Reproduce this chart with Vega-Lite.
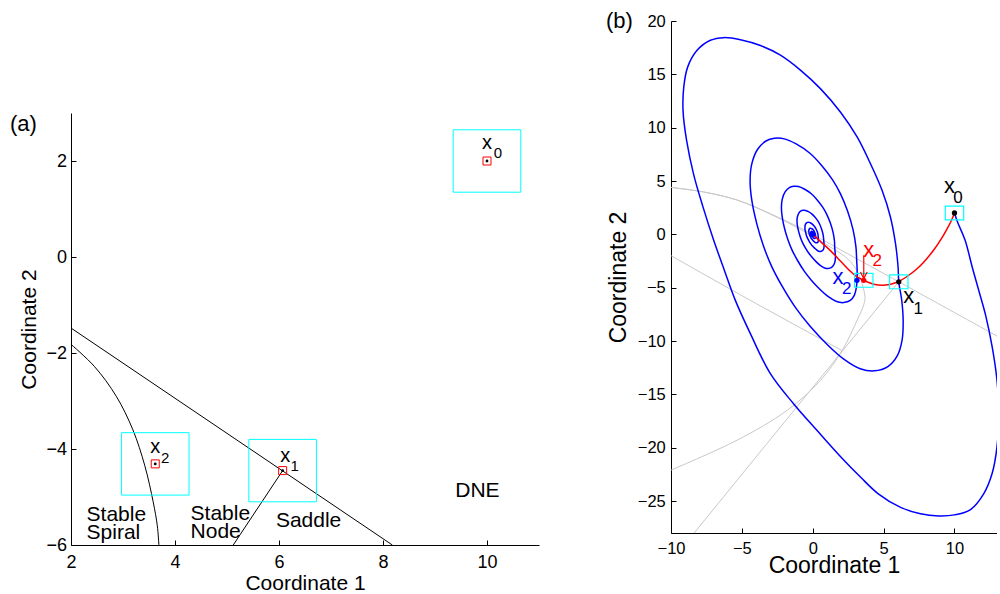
{
  "$schema": "https://vega.github.io/schema/vega-lite/v6.json",
  "padding": {"left": 9, "top": 10, "right": 0, "bottom": 0},
  "config": {
    "font": "Liberation Sans",
    "view": {"stroke": null},
    "axis": {"grid": false, "domainColor": "#000000", "tickColor": "#000000", "labelColor": "#000000", "titleColor": "#000000", "titleFontWeight": "normal", "labelFlush": false, "labelOverlap": false, "tickSize": -5, "domainWidth": 1, "tickWidth": 1, "format": "d"},
    "text": {"font": "Liberation Sans"}
  },
  "spacing": 66,
  "datasets": {
    "a_lines": [
      {"g": "L1", "i": 1, "x": 2, "y": -1.48}, {"g": "L1", "i": 2, "x": 8.18, "y": -6},
      {"g": "C2", "i": 1, "x": 2.0, "y": -1.82}, {"g": "C2", "i": 2, "x": 2.45, "y": -2.28}, {"g": "C2", "i": 3, "x": 2.87, "y": -2.9}, {"g": "C2", "i": 4, "x": 3.19, "y": -3.6}, {"g": "C2", "i": 5, "x": 3.42, "y": -4.35}, {"g": "C2", "i": 6, "x": 3.58, "y": -5.1}, {"g": "C2", "i": 7, "x": 3.66, "y": -5.6}, {"g": "C2", "i": 8, "x": 3.69, "y": -6.0},
      {"g": "L3", "i": 1, "x": 6.07, "y": -4.45}, {"g": "L3", "i": 2, "x": 5.12, "y": -6}
    ],
    "a_boxes": [
      {"x": 9.35, "x2": 10.65, "y": 1.35, "y2": 2.65},
      {"x": 5.42, "x2": 6.72, "y": -5.1, "y2": -3.8},
      {"x": 2.97, "x2": 4.27, "y": -4.96, "y2": -3.66}
    ],
    "a_pts": [{"x": 10, "y": 2}, {"x": 6.07, "y": -4.45}, {"x": 3.62, "y": -4.31}],
    "a_x": [{"x": 10.0, "y": 2.38, "t": "x"}, {"x": 6.12, "y": -4.14, "t": "x"}, {"x": 3.62, "y": -3.95, "t": "x"}],
    "a_sub": [{"x": 10.21, "y": 2.16, "t": "0"}, {"x": 6.3, "y": -4.35, "t": "1"}, {"x": 3.81, "y": -4.18, "t": "2"}],
    "a_regions": [
      {"x": 2.3, "y": -5.37, "t": "Stable\nSpiral"},
      {"x": 4.3, "y": -5.35, "t": "Stable\nNode"},
      {"x": 5.94, "y": -5.51, "t": "Saddle"},
      {"x": 9.39, "y": -4.87, "t": "DNE"}
    ],
    "a_tag": [{"x": 1.085, "y": 2.77, "t": "(a)"}],
    "b_tag": [{"x": -13.64, "y": 19.97, "t": "(b)"}],
    "b_gray": [
      {"g": "G1", "i": 1, "x": -10, "y": 4.4}, {"g": "G1", "i": 2, "x": -7.7, "y": 3.97}, {"g": "G1", "i": 3, "x": -5.3, "y": 3.2}, {"g": "G1", "i": 4, "x": -3, "y": 1.94}, {"g": "G1", "i": 5, "x": -0.64, "y": 0.45}, {"g": "G1", "i": 6, "x": 2, "y": -1.48}, {"g": "G1", "i": 7, "x": 6.07, "y": -4.45}, {"g": "G1", "i": 8, "x": 8.18, "y": -6.0}, {"g": "G1", "i": 9, "x": 13.5, "y": -9.9},
      {"g": "G2", "i": 1, "x": -10, "y": -2.0}, {"g": "G2", "i": 2, "x": -4.4, "y": -6.19}, {"g": "G2", "i": 3, "x": 2.07, "y": -10.9},
      {"g": "G3", "i": 1, "x": -10, "y": -22.1}, {"g": "G3", "i": 2, "x": -5.34, "y": -19.3}, {"g": "G3", "i": 3, "x": -1.81, "y": -16.5}, {"g": "G3", "i": 4, "x": 0.54, "y": -13.7}, {"g": "G3", "i": 5, "x": 2.07, "y": -10.9}, {"g": "G3", "i": 6, "x": 3.13, "y": -8.06}, {"g": "G3", "i": 7, "x": 3.6, "y": -6.6}, {"g": "G3", "i": 8, "x": 3.69, "y": -6.0}, {"g": "G3", "i": 9, "x": 3.66, "y": -5.6}, {"g": "G3", "i": 10, "x": 3.58, "y": -5.1}, {"g": "G3", "i": 11, "x": 3.42, "y": -4.35}, {"g": "G3", "i": 12, "x": 3.19, "y": -3.6}, {"g": "G3", "i": 13, "x": 2.87, "y": -2.9}, {"g": "G3", "i": 14, "x": 2.45, "y": -2.28}, {"g": "G3", "i": 15, "x": 2.0, "y": -1.82}, {"g": "G3", "i": 16, "x": 1.0, "y": -1.0}, {"g": "G3", "i": 17, "x": -0.64, "y": 0.3}, {"g": "G3", "i": 18, "x": -3, "y": 1.9}, {"g": "G3", "i": 19, "x": -5.3, "y": 3.2}, {"g": "G3", "i": 20, "x": -7.7, "y": 3.97}, {"g": "G3", "i": 21, "x": -10, "y": 4.4},
      {"g": "G4", "i": 1, "x": 6.07, "y": -4.45}, {"g": "G4", "i": 2, "x": -8.4, "y": -28.05}
    ],
    "b_blue": [
      {"i": 1, "x": 10.0, "y": 2.0}, {"i": 2, "x": 10.2, "y": 1.2}, {"i": 3, "x": 10.75, "y": -0.56}, {"i": 4, "x": 11.25, "y": -3.06}, {"i": 5, "x": 11.7, "y": -5.2}, {"i": 6, "x": 12.2, "y": -7.6}, {"i": 7, "x": 12.66, "y": -10.56}, {"i": 8, "x": 13.0, "y": -13.7}, {"i": 9, "x": 13.12, "y": -16.8}, {"i": 10, "x": 13.0, "y": -19.9},
      {"i": 11, "x": 12.66, "y": -22.4}, {"i": 12, "x": 12.07, "y": -24.3}, {"i": 13, "x": 11.13, "y": -25.8}, {"i": 14, "x": 10.0, "y": -26.3}, {"i": 15, "x": 8.9, "y": -26.4}, {"i": 16, "x": 7.6, "y": -26.2}, {"i": 17, "x": 6.2, "y": -25.6}, {"i": 18, "x": 4.6, "y": -24.3}, {"i": 19, "x": 3.4, "y": -22.8}, {"i": 20, "x": 2.0, "y": -20.9},
      {"i": 21, "x": 0.31, "y": -18.4}, {"i": 22, "x": -1.34, "y": -15.9}, {"i": 23, "x": -2.99, "y": -13.06}, {"i": 24, "x": -4.4, "y": -9.31}, {"i": 25, "x": -5.46, "y": -6.19}, {"i": 26, "x": -6.2, "y": -3.5}, {"i": 27, "x": -7.0, "y": -0.5}, {"i": 28, "x": -7.75, "y": 2.6}, {"i": 29, "x": -8.4, "y": 5.6}, {"i": 30, "x": -8.9, "y": 8.8},
      {"i": 31, "x": -9.15, "y": 11.6}, {"i": 32, "x": -9.1, "y": 13.8}, {"i": 33, "x": -8.82, "y": 15.7}, {"i": 34, "x": -8.16, "y": 17.25}, {"i": 35, "x": -7.22, "y": 18.19}, {"i": 36, "x": -6.28, "y": 18.44}, {"i": 37, "x": -5.1, "y": 18.25}, {"i": 38, "x": -3.69, "y": 17.7}, {"i": 39, "x": -2.28, "y": 16.8}, {"i": 40, "x": -0.87, "y": 15.4},
      {"i": 41, "x": 0.54, "y": 13.66}, {"i": 42, "x": 1.95, "y": 11.47}, {"i": 43, "x": 3.13, "y": 9.13}, {"i": 44, "x": 4.07, "y": 6.63}, {"i": 45, "x": 4.89, "y": 4.13}, {"i": 46, "x": 5.48, "y": 1.63}, {"i": 47, "x": 5.84, "y": -0.875}, {"i": 48, "x": 6.02, "y": -3.06}, {"i": 49, "x": 6.07, "y": -4.45},
      {"i": 50, "x": 6.28, "y": -6.2}, {"i": 51, "x": 6.38, "y": -8.06}, {"i": 52, "x": 6.3, "y": -9.94}, {"i": 53, "x": 5.96, "y": -11.4}, {"i": 54, "x": 5.3, "y": -12.4}, {"i": 55, "x": 4.35, "y": -12.8}, {"i": 56, "x": 3.35, "y": -12.6}, {"i": 57, "x": 2.19, "y": -11.7}, {"i": 58, "x": 1.0, "y": -10.3}, {"i": 59, "x": -0.2, "y": -8.6},
      {"i": 60, "x": -1.2, "y": -6.9}, {"i": 61, "x": -2.1, "y": -5.0}, {"i": 62, "x": -2.9, "y": -3.0}, {"i": 63, "x": -3.5, "y": -1.0}, {"i": 64, "x": -3.95, "y": 1.0}, {"i": 65, "x": -4.3, "y": 3.2}, {"i": 66, "x": -4.42, "y": 5.0}, {"i": 67, "x": -4.3, "y": 6.6}, {"i": 68, "x": -3.9, "y": 7.95}, {"i": 69, "x": -3.3, "y": 8.75},
      {"i": 70, "x": -2.7, "y": 9.0}, {"i": 71, "x": -2.0, "y": 8.95}, {"i": 72, "x": -1.2, "y": 8.5}, {"i": 73, "x": -0.2, "y": 7.6}, {"i": 74, "x": 0.6, "y": 6.5}, {"i": 75, "x": 1.4, "y": 5.1}, {"i": 76, "x": 1.95, "y": 3.81}, {"i": 77, "x": 2.45, "y": 2.2}, {"i": 78, "x": 2.85, "y": 0.4}, {"i": 79, "x": 3.05, "y": -1.2},
      {"i": 80, "x": 3.1, "y": -2.44}, {"i": 81, "x": 3.13, "y": -3.2}, {"i": 82, "x": 3.13, "y": -4.05}, {"i": 83, "x": 3.08, "y": -4.97}, {"i": 84, "x": 2.94, "y": -5.7}, {"i": 85, "x": 2.65, "y": -6.2}, {"i": 86, "x": 2.18, "y": -6.4}, {"i": 87, "x": 1.68, "y": -6.3}, {"i": 88, "x": 1.1, "y": -5.85}, {"i": 89, "x": 0.5, "y": -5.15},
      {"i": 90, "x": -0.1, "y": -4.3}, {"i": 91, "x": -0.6, "y": -3.45}, {"i": 92, "x": -1.05, "y": -2.5}, {"i": 93, "x": -1.45, "y": -1.5}, {"i": 94, "x": -1.75, "y": -0.5}, {"i": 95, "x": -1.98, "y": 0.5}, {"i": 96, "x": -2.15, "y": 1.6}, {"i": 97, "x": -2.21, "y": 2.5}, {"i": 98, "x": -2.15, "y": 3.3}, {"i": 99, "x": -1.95, "y": 3.98},
      {"i": 100, "x": -1.65, "y": 4.38}, {"i": 101, "x": -1.35, "y": 4.5}, {"i": 102, "x": -1.0, "y": 4.48}, {"i": 103, "x": -0.6, "y": 4.25}, {"i": 104, "x": -0.1, "y": 3.8}, {"i": 105, "x": 0.3, "y": 3.25}, {"i": 106, "x": 0.7, "y": 2.55}, {"i": 107, "x": 0.98, "y": 1.9}, {"i": 108, "x": 1.23, "y": 1.1}, {"i": 109, "x": 1.43, "y": 0.2},
      {"i": 110, "x": 1.53, "y": -0.6}, {"i": 111, "x": 1.55, "y": -1.22}, {"i": 112, "x": 1.57, "y": -1.55}, {"i": 113, "x": 1.6, "y": -2.02}, {"i": 114, "x": 1.58, "y": -2.49}, {"i": 115, "x": 1.49, "y": -2.85}, {"i": 116, "x": 1.33, "y": -3.1}, {"i": 117, "x": 1.09, "y": -3.2}, {"i": 118, "x": 0.84, "y": -3.15}, {"i": 119, "x": 0.55, "y": -2.93},
      {"i": 120, "x": 0.25, "y": -2.58}, {"i": 121, "x": -0.05, "y": -2.15}, {"i": 122, "x": -0.3, "y": -1.73}, {"i": 123, "x": -0.53, "y": -1.25}, {"i": 124, "x": -0.73, "y": -0.75}, {"i": 125, "x": -0.88, "y": -0.25}, {"i": 126, "x": -0.99, "y": 0.25}, {"i": 127, "x": -1.08, "y": 0.8}, {"i": 128, "x": -1.11, "y": 1.25}, {"i": 129, "x": -1.08, "y": 1.65},
      {"i": 130, "x": -0.98, "y": 1.99}, {"i": 131, "x": -0.83, "y": 2.19}, {"i": 132, "x": -0.68, "y": 2.25}, {"i": 133, "x": -0.5, "y": 2.24}, {"i": 134, "x": -0.3, "y": 2.13}, {"i": 135, "x": -0.05, "y": 1.9}, {"i": 136, "x": 0.15, "y": 1.63}, {"i": 137, "x": 0.35, "y": 1.28}, {"i": 138, "x": 0.49, "y": 0.95}, {"i": 139, "x": 0.61, "y": 0.55},
      {"i": 140, "x": 0.71, "y": 0.1}, {"i": 141, "x": 0.76, "y": -0.3}, {"i": 142, "x": 0.78, "y": -0.61}, {"i": 143, "x": 0.79, "y": -0.78}, {"i": 144, "x": 0.8, "y": -1.01}, {"i": 145, "x": 0.79, "y": -1.24}, {"i": 146, "x": 0.75, "y": -1.43}, {"i": 147, "x": 0.66, "y": -1.55}, {"i": 148, "x": 0.54, "y": -1.6}, {"i": 149, "x": 0.42, "y": -1.58},
      {"i": 150, "x": 0.27, "y": -1.46}, {"i": 151, "x": 0.13, "y": -1.29}, {"i": 152, "x": -0.03, "y": -1.08}, {"i": 153, "x": -0.15, "y": -0.86}, {"i": 154, "x": -0.26, "y": -0.63}, {"i": 155, "x": -0.36, "y": -0.38}, {"i": 156, "x": -0.44, "y": -0.13}, {"i": 157, "x": -0.49, "y": 0.13}, {"i": 158, "x": -0.54, "y": 0.4}, {"i": 159, "x": -0.55, "y": 0.63},
      {"i": 160, "x": -0.54, "y": 0.83}, {"i": 161, "x": -0.49, "y": 0.99}, {"i": 162, "x": -0.41, "y": 1.09}, {"i": 163, "x": -0.34, "y": 1.13}, {"i": 164, "x": -0.25, "y": 1.12}, {"i": 165, "x": -0.15, "y": 1.06}, {"i": 166, "x": -0.03, "y": 0.95}, {"i": 167, "x": 0.08, "y": 0.81}, {"i": 168, "x": 0.18, "y": 0.64}, {"i": 169, "x": 0.24, "y": 0.48},
      {"i": 170, "x": 0.31, "y": 0.28}, {"i": 171, "x": 0.36, "y": 0.05}, {"i": 172, "x": 0.38, "y": -0.15}, {"i": 173, "x": 0.39, "y": -0.3}, {"i": 174, "x": 0.39, "y": -0.39}, {"i": 175, "x": 0.4, "y": -0.5}, {"i": 176, "x": 0.39, "y": -0.62}, {"i": 177, "x": 0.37, "y": -0.71}, {"i": 178, "x": 0.33, "y": -0.78}, {"i": 179, "x": 0.27, "y": -0.8},
      {"i": 180, "x": 0.21, "y": -0.79}, {"i": 181, "x": 0.14, "y": -0.73}, {"i": 182, "x": 0.06, "y": -0.64}, {"i": 183, "x": -0.01, "y": -0.54}, {"i": 184, "x": -0.08, "y": -0.43}, {"i": 185, "x": -0.13, "y": -0.31}, {"i": 186, "x": -0.18, "y": -0.19}, {"i": 187, "x": -0.22, "y": -0.06}, {"i": 188, "x": -0.25, "y": 0.06}, {"i": 189, "x": -0.27, "y": 0.2},
      {"i": 190, "x": -0.28, "y": 0.31}, {"i": 191, "x": -0.27, "y": 0.41}, {"i": 192, "x": -0.24, "y": 0.5}, {"i": 193, "x": -0.21, "y": 0.55}, {"i": 194, "x": -0.17, "y": 0.56}, {"i": 195, "x": -0.13, "y": 0.56}, {"i": 196, "x": -0.08, "y": 0.53}, {"i": 197, "x": -0.01, "y": 0.48}, {"i": 198, "x": 0.04, "y": 0.41}, {"i": 199, "x": 0.09, "y": 0.32},
      {"i": 200, "x": 0.12, "y": 0.24}, {"i": 201, "x": 0.15, "y": 0.14}, {"i": 202, "x": 0.18, "y": 0.03}, {"i": 203, "x": 0.19, "y": -0.08}, {"i": 204, "x": 0.2, "y": -0.19}, {"i": 205, "x": 0.2, "y": -0.28}, {"i": 206, "x": 0.18, "y": -0.36}, {"i": 207, "x": 0.14, "y": -0.4}, {"i": 208, "x": 0.09, "y": -0.38}, {"i": 209, "x": 0.03, "y": -0.32},
      {"i": 210, "x": -0.03, "y": -0.22}, {"i": 211, "x": -0.08, "y": -0.11}, {"i": 212, "x": -0.12, "y": 0.03}, {"i": 213, "x": -0.14, "y": 0.16}, {"i": 214, "x": -0.12, "y": 0.25}, {"i": 215, "x": -0.08, "y": 0.28}, {"i": 216, "x": -0.03, "y": 0.26}, {"i": 217, "x": 0.02, "y": 0.2}, {"i": 218, "x": 0.06, "y": 0.12}, {"i": 219, "x": 0.09, "y": 0.02},
      {"i": 220, "x": 0.1, "y": -0.06}, {"i": 221, "x": 0.05, "y": -0.08}, {"i": 222, "x": 0.0, "y": 0.0}
    ],
    "b_red": [
      {"i": 1, "x": 10, "y": 2}, {"i": 2, "x": 9.75, "y": 1.2}, {"i": 3, "x": 9.45, "y": 0.45}, {"i": 4, "x": 9.1, "y": -0.35}, {"i": 5, "x": 8.6, "y": -1.35}, {"i": 6, "x": 8.0, "y": -2.35}, {"i": 7, "x": 7.3, "y": -3.3}, {"i": 8, "x": 6.6, "y": -4.0}, {"i": 9, "x": 6.07, "y": -4.42}, {"i": 10, "x": 5.5, "y": -4.68},
      {"i": 11, "x": 4.9, "y": -4.78}, {"i": 12, "x": 4.3, "y": -4.68}, {"i": 13, "x": 3.6, "y": -4.31}, {"i": 14, "x": 3.15, "y": -4.02}, {"i": 15, "x": 2.6, "y": -3.4}, {"i": 16, "x": 1.95, "y": -2.5}, {"i": 17, "x": 1.3, "y": -1.6}, {"i": 18, "x": 0.65, "y": -0.8}, {"i": 19, "x": 0, "y": 0}
    ],
    "b_arrow": [
      {"g": "shaft", "i": 1, "x": 3.6, "y": -1.97}, {"g": "shaft", "i": 2, "x": 3.6, "y": -4.16},
      {"g": "head", "i": 1, "x": 3.37, "y": -3.53}, {"g": "head", "i": 2, "x": 3.6, "y": -4.16}, {"g": "head", "i": 3, "x": 3.84, "y": -3.53}
    ],
    "b_boxes": [
      {"x": 9.35, "x2": 10.65, "y": 1.35, "y2": 2.65},
      {"x": 5.42, "x2": 6.72, "y": -5.1, "y2": -3.8},
      {"x": 2.95, "x2": 4.25, "y": -4.96, "y2": -3.66}
    ],
    "b_black": [{"x": 10, "y": 2}, {"x": 6.07, "y": -4.45}],
    "b_bluepts": [{"x": 3.12, "y": -4.31}, {"x": 0, "y": 0}],
    "b_redpts": [{"x": 3.6, "y": -4.31}],
    "b_black_x": [{"x": 9.65, "y": 4.5, "t": "x"}, {"x": 6.78, "y": -5.8, "t": "x"}],
    "b_black_sub": [{"x": 10.25, "y": 3.4, "t": "0"}, {"x": 7.45, "y": -7.0, "t": "1"}],
    "b_red_x": [{"x": 3.95, "y": -1.45, "t": "x"}],
    "b_red_sub": [{"x": 4.55, "y": -2.5, "t": "2"}],
    "b_blue_x": [{"x": 1.78, "y": -3.98, "t": "x"}],
    "b_blue_sub": [{"x": 2.4, "y": -5.1, "t": "2"}]
  },
  "hconcat": [
    {
      "spacing": 0,
      "vconcat": [
        {"width": 468, "height": 92, "data": {"values": []}, "mark": {"type": "point", "opacity": 0}},
        {
          "width": 468,
          "height": 432,
          "encoding": {
            "x": {"field": "x", "type": "quantitative", "scale": {"domain": [2, 11], "nice": false, "zero": false}, "axis": {"values": [2, 4, 6, 8, 10], "title": "Coordinate 1", "labelFontSize": 18, "titleFontSize": 21, "labelPadding": 13.5, "titlePadding": 1}},
            "y": {"field": "y", "type": "quantitative", "scale": {"domain": [-6, 3], "nice": false, "zero": false}, "axis": {"values": [-6, -4, -2, 0, 2], "title": "Coordinate 2", "labelFontSize": 18, "titleFontSize": 21, "labelPadding": 9.5, "titlePadding": 6}}
          },
          "layer": [
            {"data": {"name": "a_lines"}, "mark": {"type": "line", "color": "#000000", "strokeWidth": 1, "interpolate": "catmull-rom"}, "encoding": {"detail": {"field": "g"}, "order": {"field": "i"}}},
            {"data": {"name": "a_boxes"}, "mark": {"type": "rect", "fill": "#ffffff", "fillOpacity": 0, "stroke": "#00ffff", "strokeWidth": 1}, "encoding": {"x2": {"field": "x2"}, "y2": {"field": "y2"}}},
            {"data": {"name": "a_pts"}, "mark": {"type": "point", "shape": "square", "size": 64, "filled": false, "color": "#ff0000", "strokeWidth": 1, "opacity": 1}},
            {"data": {"name": "a_pts"}, "mark": {"type": "point", "shape": "circle", "size": 8, "filled": true, "color": "#000000", "opacity": 1}},
            {"data": {"name": "a_x"}, "mark": {"type": "text", "fontSize": 20, "color": "#000000", "align": "center", "baseline": "middle"}, "encoding": {"text": {"field": "t"}}},
            {"data": {"name": "a_sub"}, "mark": {"type": "text", "fontSize": 15, "color": "#000000", "align": "center", "baseline": "middle"}, "encoding": {"text": {"field": "t"}}},
            {"data": {"name": "a_regions"}, "mark": {"type": "text", "fontSize": 21, "color": "#000000", "align": "left", "baseline": "middle", "lineBreak": "\n", "lineHeight": 18}, "encoding": {"text": {"field": "t"}}},
            {"data": {"name": "a_tag"}, "mark": {"type": "text", "fontSize": 22, "color": "#000000", "align": "center", "baseline": "middle"}, "encoding": {"text": {"field": "t"}}}
          ]
        }
      ]
    },
    {
      "width": 326,
      "height": 512,
      "encoding": {
        "x": {"field": "x", "type": "quantitative", "scale": {"domain": [-10, 13], "nice": false, "zero": false}, "axis": {"values": [-10, -5, 0, 5, 10], "title": "Coordinate 1", "labelFontSize": 16.5, "titleFontSize": 23, "labelPadding": 12.4, "titlePadding": -2}},
        "y": {"field": "y", "type": "quantitative", "scale": {"domain": [-28, 20], "nice": false, "zero": false}, "axis": {"values": [-25, -20, -15, -10, -5, 0, 5, 10, 15, 20], "title": "Coordinate 2", "labelFontSize": 16.5, "titleFontSize": 23, "labelPadding": 10.7, "titlePadding": 7}}
      },
      "layer": [
        {"data": {"name": "b_gray"}, "mark": {"type": "line", "color": "#c8c8c8", "strokeWidth": 1, "interpolate": "catmull-rom", "clip": true}, "encoding": {"detail": {"field": "g"}, "order": {"field": "i"}}},
        {"data": {"name": "b_blue"}, "mark": {"type": "line", "color": "#0000ff", "strokeWidth": 1.5, "interpolate": "catmull-rom", "clip": true}, "encoding": {"order": {"field": "i"}}},
        {"data": {"name": "b_red"}, "mark": {"type": "line", "color": "#ff0000", "strokeWidth": 1.5, "interpolate": "catmull-rom", "clip": true}, "encoding": {"order": {"field": "i"}}},
        {"data": {"name": "b_boxes"}, "mark": {"type": "rect", "fill": "#ffffff", "fillOpacity": 0, "stroke": "#00ffff", "strokeWidth": 1.2}, "encoding": {"x2": {"field": "x2"}, "y2": {"field": "y2"}}},
        {"data": {"name": "b_arrow"}, "mark": {"type": "line", "color": "#ff0000", "strokeWidth": 1.2}, "encoding": {"detail": {"field": "g"}, "order": {"field": "i"}}},
        {"data": {"name": "b_black"}, "mark": {"type": "point", "shape": "circle", "size": 28, "filled": true, "color": "#000000", "opacity": 1}},
        {"data": {"name": "b_bluepts"}, "mark": {"type": "point", "shape": "circle", "size": 28, "filled": true, "color": "#0000ff", "opacity": 1}},
        {"data": {"name": "b_redpts"}, "mark": {"type": "point", "shape": "circle", "size": 28, "filled": true, "color": "#ff0000", "opacity": 1}},
        {"data": {"name": "b_black_x"}, "mark": {"type": "text", "fontSize": 22, "color": "#000000", "align": "center", "baseline": "middle"}, "encoding": {"text": {"field": "t"}}},
        {"data": {"name": "b_black_sub"}, "mark": {"type": "text", "fontSize": 17, "color": "#000000", "align": "center", "baseline": "middle"}, "encoding": {"text": {"field": "t"}}},
        {"data": {"name": "b_red_x"}, "mark": {"type": "text", "fontSize": 22, "color": "#ff0000", "align": "center", "baseline": "middle"}, "encoding": {"text": {"field": "t"}}},
        {"data": {"name": "b_red_sub"}, "mark": {"type": "text", "fontSize": 17, "color": "#ff0000", "align": "center", "baseline": "middle"}, "encoding": {"text": {"field": "t"}}},
        {"data": {"name": "b_blue_x"}, "mark": {"type": "text", "fontSize": 22, "color": "#0000ff", "align": "center", "baseline": "middle"}, "encoding": {"text": {"field": "t"}}},
        {"data": {"name": "b_blue_sub"}, "mark": {"type": "text", "fontSize": 17, "color": "#0000ff", "align": "center", "baseline": "middle"}, "encoding": {"text": {"field": "t"}}},
        {"data": {"name": "b_tag"}, "mark": {"type": "text", "fontSize": 22, "color": "#000000", "align": "center", "baseline": "middle"}, "encoding": {"text": {"field": "t"}}}
      ]
    }
  ]
}
